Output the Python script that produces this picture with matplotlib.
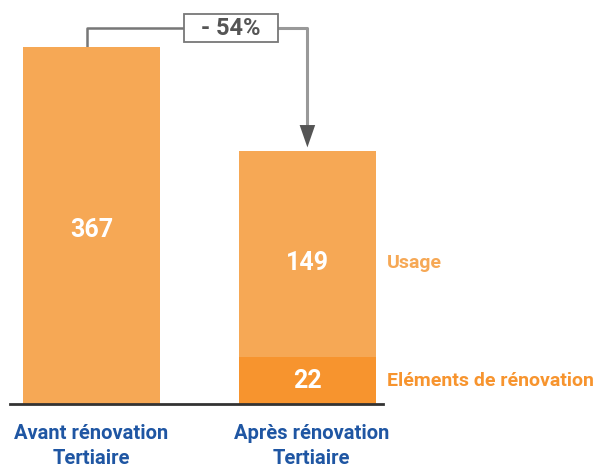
import matplotlib.pyplot as plt
from matplotlib.patches import FancyArrowPatch, Rectangle

plt.rcParams['font.family'] = ['Roboto', 'DejaVu Sans']

# données
categories = ['Avant rénovation\nTertiaire', 'Après rénovation\nTertiaire']
labels_avant = [367]
labels_apres = [22, 149]          # éléments de rénovation, usage
# hauteurs dessinées (le graphique d'origine n'est pas à l'échelle)
h_avant = [367]
h_elements = [48]
h_usage = [212]
legend_names = ['Usage', 'Eléments de rénovation']
variation = '- 54%'

c_usage = '#F6A855'
c_elem = '#F7942E'
c_blue = '#1F56A3'

fig = plt.figure(figsize=(5.96, 4.70), dpi=100)
ax = fig.add_axes([10 / 596, 66 / 470, 373 / 596, 394 / 470])
ax.set_xlim(-0.377, 1.35)
ax.set_ylim(0, 394 / 0.9725)
ax.axis('off')

w = 0.634
ax.bar([0], h_avant, width=w, color=c_usage, zorder=2)
ax.bar([1], h_elements, width=w, color=c_elem, zorder=2)
ax.bar([1], h_usage, bottom=h_elements, width=w, color=c_usage, zorder=2)

# ligne de base
ax.plot([-0.377, 1.35], [0, 0], color='#333333', lw=2, clip_on=False, zorder=3)

# valeurs
y_usage = h_elements[0] + h_usage[0] * 0.458
ax.text(0, h_avant[0] * 0.487, str(labels_avant[0]), ha='center', va='center',
        color='white', fontsize=18, fontweight='bold')
ax.text(1, y_usage, str(labels_apres[1]), ha='center',
        va='center', color='white', fontsize=18, fontweight='bold')
ax.text(1, h_elements[0] / 2, str(labels_apres[0]), ha='center', va='center',
        color='white', fontsize=18, fontweight='bold')

# légendes à droite
ax.text(1.37, y_usage, legend_names[0], ha='left',
        va='center', color=c_usage, fontsize=14, fontweight='bold', clip_on=False)
ax.text(1.37, h_elements[0] / 2, legend_names[1], ha='left', va='center',
        color=c_elem, fontsize=14, fontweight='bold', clip_on=False)

# catégories
for i, cat in enumerate(categories):
    ax.text(i + (0.02 if i else 0), -21, cat, ha='center', va='top', color=c_blue,
            fontsize=14.5, fontweight='bold', linespacing=1.4, clip_on=False)

# crochet avec variation
y_br = 386.6
x_left = -0.02
x_right = 1.0
top2 = h_elements[0] + h_usage[0]
ax.plot([x_left, x_left, 0.43], [h_avant[0], y_br, y_br], color='#777777', lw=1.8,
        clip_on=False, zorder=1)
ax.plot([0.86, x_right, x_right], [y_br, y_br, top2 + 16],
        color='#999999', lw=2.2, clip_on=False, zorder=1)
arrow = FancyArrowPatch((x_right, top2 + 17), (x_right, top2 + 1),
                        arrowstyle='-|>,head_length=1.15,head_width=0.4',
                        mutation_scale=14, color='#555555', lw=0, zorder=4)
ax.add_patch(arrow)
ax.add_patch(Rectangle((0.428, 372.2), 0.435, 28.8, fc='white', ec='#777777',
                       lw=1.3, clip_on=False, zorder=3))
ax.text(0.645, y_br, variation, ha='center', va='center', color='#555555',
        fontsize=17, fontweight='bold', clip_on=False, zorder=4)

fig.savefig('out.png', dpi=100)
